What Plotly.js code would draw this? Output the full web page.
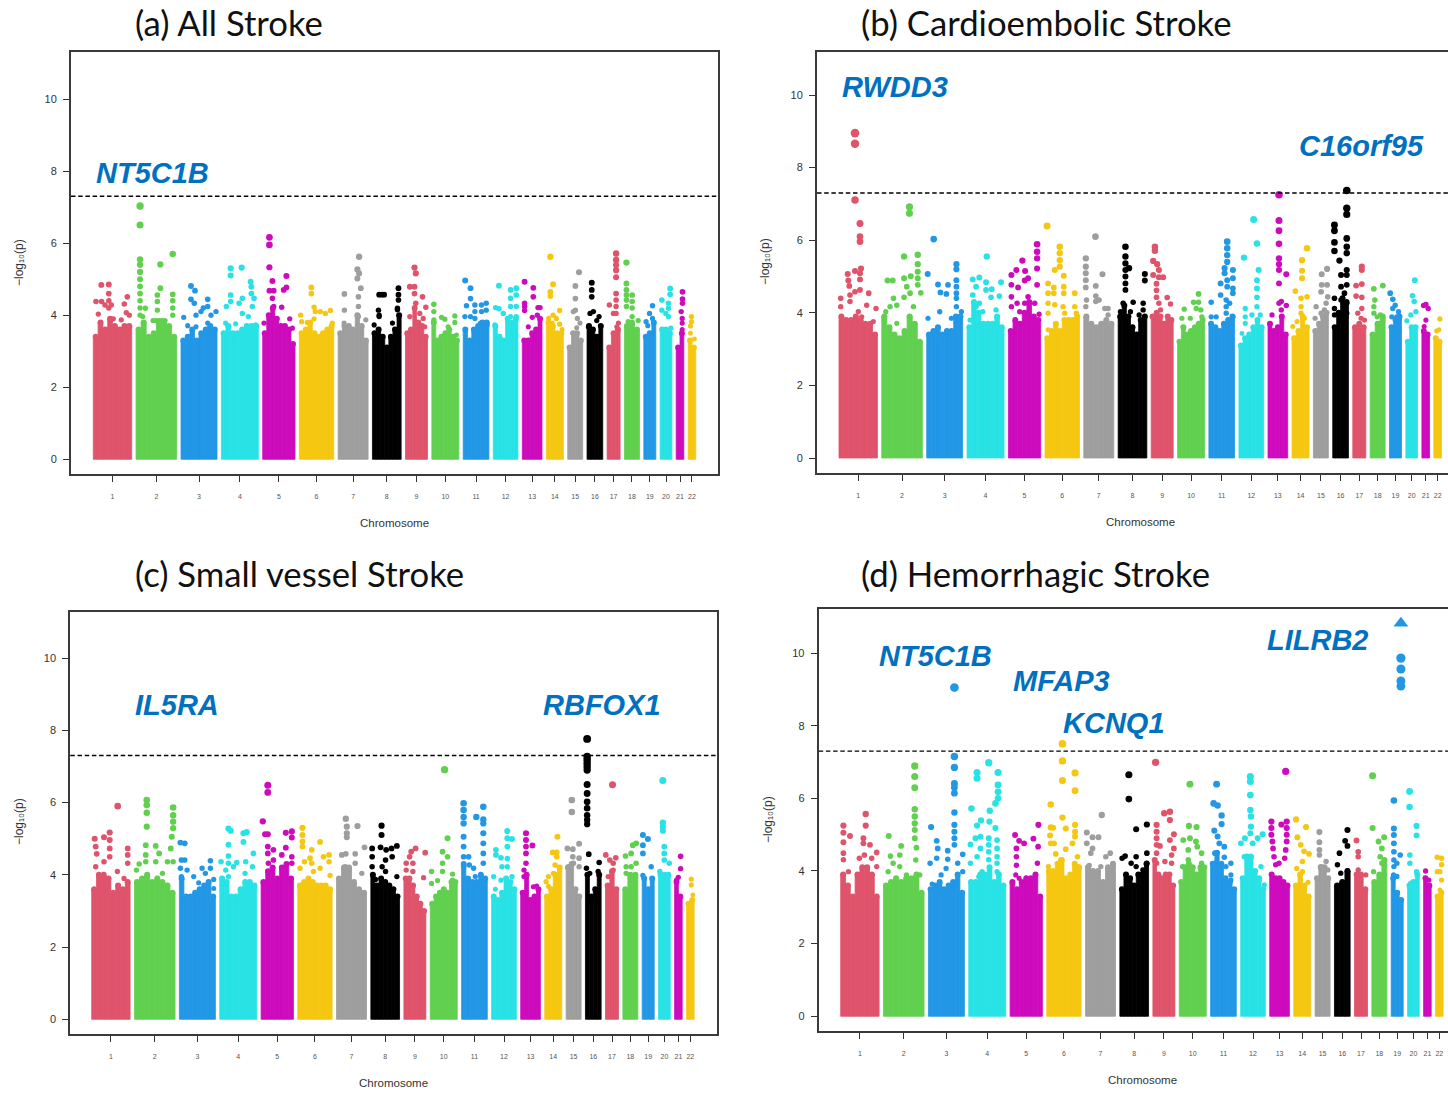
<!DOCTYPE html>
<html><head><meta charset="utf-8">
<script src="https://cdn.plot.ly/plotly-3.0.1.min.js"></script>
<style>html,body{margin:0;padding:0;background:#fff;overflow:hidden}#g{width:1448px;height:1093px}</style>
</head><body><div id="g"></div>
<script>
const chromNames=['1','2','3','4','5','6','7','8','9','10','11','12','13','14','15','16','17','18','19','20','21','22'];
const chromSizes=[38.4,40.6,36,37,32.3,34.4,30,28.7,22,27,25.7,24.7,19.7,17,15,15.7,13,15,12,11.7,7.6,7.6];
const chromColors=['#DF536B','#61D04F','#2297E6','#28E2E5','#CD0BBC','#F5C710','#9E9E9E','#000000'];
const genomeWide=7.3;

// height of the dense body of each chromosome, left to right
const skylineA=[[3.4,3.8,3.6,3.9,3.7,3.6,3.7,3.7],[3.6,3.8,3.4,3.5,3.8,3.8,3.7,3.4],[3.3,3.4,3.6,3.3,3.5,3.6,3.7,3.6],[3.5,3.7,3.5,3.5,3.6,3.7,3.7,3.7],[3.5,4.0,4.2,3.9,3.7,3.7,3.6,3.2],[3.5,3.6,3.8,3.5,3.4,3.5,3.6,3.7],[3.5,3.7,3.7,3.6,4.0,3.7,3.3],[3.5,3.6,3.4,3.1,3.4,3.6,4.0],[3.5,3.6,4.2,3.8,3.7,3.4],[3.8,3.3,3.4,3.5,3.6,3.4,3.3],[3.6,3.3,3.6,3.7,3.8,3.8],[3.7,3.4,3.3,3.9,3.8,3.9],[3.3,3.3,3.5,3.6,3.9],[3.8,3.7,3.5,3.5],[3.1,3.5,3.5,3.3],[3.7,3.6,3.4,3.7],[3.1,3.5,3.6],[3.7,3.8,3.6],[3.4,3.5,3.8],[3.6,3.6,3.5],[3.1,3.5],[3.3,3.1]];
const skylineB=[[3.9,3.8,3.8,3.9,3.8,3.7,3.7,3.4],[3.9,3.6,3.4,3.3,3.5,3.9,3.7,3.2],[3.4,3.5,3.6,3.4,3.5,3.5,3.9,3.9],[3.6,4.3,4.0,3.7,3.7,3.7,3.9,3.6],[3.5,3.8,3.7,4.0,4.3,3.9,3.8],[3.3,3.5,3.7,3.5,3.8,3.8,3.8,3.9],[3.9,3.7,3.6,3.7,3.8,3.7],[3.9,4.2,3.9,3.6,3.4,3.8,3.9],[3.9,4.0,3.9,3.7,3.9,3.8],[3.2,3.6,3.4,3.5,3.6,3.7,3.8],[3.7,3.6,3.5,3.7,3.8,3.9],[3.1,3.3,3.4,3.6,3.8,3.6],[3.7,3.5,3.6,3.9,3.4],[3.3,3.5,3.9,3.6],[3.5,3.7,3.9,4.0],[3.6,4.0,4.4,4.3],[3.6,3.7,3.6],[3.4,3.7,3.9],[3.6,3.8,3.9],[3.2,3.6,3.6],[3.5,3.4],[3.3,3.2]];
const skylineC=[[3.6,4.0,4.0,3.9,3.5,3.7,3.6,3.8],[3.8,3.9,4.0,3.8,3.9,3.8,3.7,3.5],[3.9,3.4,3.4,3.5,3.6,3.7,3.8,3.4],[3.9,3.8,3.4,3.4,3.6,3.8,3.8,3.7],[3.8,4.1,4.2,3.9,4.2,4.3,3.9],[3.7,3.8,3.9,3.8,3.7,3.7,3.7,3.6],[3.9,4.2,4.2,3.8,3.6,3.5],[4.0,3.7,3.9,3.8,3.7,3.6,3.4],[3.9,3.9,3.7,3.4,3.2,3.0],[3.2,3.4,3.5,3.6,3.5,3.8,3.8],[4.3,3.9,3.8,3.8,4.0,3.9],[3.4,3.3,3.5,3.9,3.8,3.6],[3.5,4.0,3.3,3.4,3.6],[3.4,3.6,4.0,4.2],[4.2,4.3,3.6,3.4],[4.0,3.4,3.6,4.0],[3.7,4.1,3.6],[3.6,4.0,4.0],[3.9,3.6,3.9],[4.0,4.0,4.0],[3.8,3.4],[3.2,3.3]];
const skylineD=[[3.9,3.6,3.3,3.9,4.1,4.1,3.9,3.3],[3.6,3.7,3.8,3.7,3.8,3.8,3.9,3.4],[3.5,3.6,3.7,3.5,3.6,3.7,3.9,3.4],[3.7,3.7,3.9,3.9,4.1,3.7,3.9,3.6],[3.7,3.5,3.7,3.8,3.8,3.9,3.3],[4.0,4.0,4.2,4.3,3.8,3.9,4.2,4.1],[4.1,4.0,4.0,3.7,4.1,4.2],[3.5,3.9,3.8,3.6,3.9,3.9,4.2],[4.3,3.9,3.8,3.9,3.9,3.6],[3.7,4.1,4.2,4.1,3.9,4.1,4.1],[4.2,4.5,4.2,3.8,3.7,3.5],[3.8,4.4,4.4,4.0,3.8,3.5],[3.9,3.8,3.8,3.7,3.6],[3.6,3.9,3.6,3.3],[3.8,4.1,4.1,3.8],[3.6,3.7,4.0],[3.9,3.9,3.5],[3.7,3.9,4.3],[3.8,3.4,3.2],[3.6,3.7,3.9],[3.8,3.6],[3.3,3.4]];

// individual points above the body, per chromosome: position in chromosome, -log10(p), ...
const peaksA=[
[8,4.84,2.7,4.38,8.3,4.38,5,4.03,15.5,4.85,15.5,4.6,15.5,4.4,15.5,4.2,11.7,4.28,18,4.28,34,4.51,31,4.31,33,4.07,36,4,20,3.9,28,3.87],
[4,7.03,4,6.5,4,5.55,4,5.4,4,5.2,4,5,4,4.8,4,4.6,4,4.4,4,4.2,4,4,24.3,5.41,36.7,5.7,24.3,4.75,21.3,4.56,21.3,4.38,21.3,4.14,36.7,4.58,36.7,4.4,36.7,4.2,36.7,4,9.3,4.19,6.7,3.96,17,3.85,20,3.85,23,3.85,26,3.85,29,3.85],
[10,4.81,14,4.68,10,4.44,13.3,4.33,2.7,3.94,6.7,3.71,15,4,26.7,4.44,22.3,4.2,26.7,4.24,35,4.1,20,4.1,30,4,26.7,3.78,15,3.68],
[9.3,5.3,9.3,5.1,20.3,5.32,29.3,4.93,30,4.79,30,4.6,9.3,4.56,9.3,4.38,5,4.24,21,4.47,17.7,4.33,32.7,4.47,21,4.05,31,4.24,27,3.96,4.3,3.78,14.3,3.76,34.3,3.73],
[6.7,6.16,6.7,5.95,6.7,5.33,23.7,5.09,9.7,4.95,23.7,4.77,21,4.7,6.7,4.68,11,4.68,9.7,4.47,11,4.24,19,4.22,1.3,3.78,27,3.9,29.7,3.64],
[12,4.77,12,4.6,1.3,4,14.7,4.22,16,4.1,21,4.1,31,4.13,8,3.8,2.3,3.82,26,4.05,33,3.78,14.7,3.9],
[21,5.62,19.3,5.27,21,5.16,22.7,4.75,6.3,4.59,6.3,4.14,20.3,4.51,20.3,4.24,20.3,3.96,27.7,3.87,6,3.78,19.3,5.02],
[9.3,4.57,6.7,4.57,11.7,4.57,26,4.75,26,4.57,26,4.42,25,4.19,6,4.14,6.7,3.96,1.7,3.73,25,4.15,6.7,4,20,3.78],
[9,5.32,10.3,5.16,4.3,4.79,9,4.79,9,4.6,17,4.51,20.3,4.22,10.3,4.33,14.3,4.05,4.3,3.96,17.7,3.91,19.3,3.68],
[2,4.3,2,4.1,23,3.98,23,3.8,9.7,3.94,13,3.89,2,3.87,16.3,3.68,24.7,3.45],
[2,4.96,7.3,4.75,7.3,4.46,3.3,4.26,11.7,4.28,11.7,4.1,11.7,3.91,18.3,4.28,23,4.33,1.7,3.96,7.3,3.96,18.3,4.1,23,4.14,24,3.73,17.3,3.78],
[5.7,4.82,2.3,4.21,5.7,4.18,10,4.05,17.3,4.7,23,4.75,23,4.56,17.3,4.47,17.3,4.24,23,4.24,17.3,3.96,23,3.96,1.7,3.73],
[2.3,4.93,11,4.76,11,4.51,2.3,4.33,2.3,4.24,2.3,4.13,15.7,4.21,17.7,4.21,15,4,10,3.94,6,3.68],
[4,5.62,6.7,4.86,4,4.65,4,4.53,13.3,4.13,6.7,4,2.3,3.91,10,3.91,13.3,3.75,5.7,3.78,15.7,3.6],
[11.3,5.19,7.7,4.81,7.7,4.46,7.7,4.14,5.7,4.1,9.7,3.91,12.3,3.78,9,3.65,5,3.5],
[4.7,4.9,4.7,4.7,4.7,4.51,3,4.05,6.3,4.1,12,3.96,9.7,3.85,1.3,3.68],
[9,5.71,9,5.53,9,5.39,9,5.25,9,5.05,9,4.6,9,4.42,9,4.24,6.3,4.05,2.3,4.28,9,4.05,11.3,3.78,9.7,3.68],
[2,5.46,2,4.88,2,4.7,2,4.56,2,4.42,2,4.24,7.7,4.56,7.7,4.38,7.7,4.2,7.7,3.96,13.7,3.85,3.7,3.82],
[8.7,4.26,5.7,4.05,2.3,3.82,4,3.71,8.7,3.91],
[10,4.74,10,4.58,1.7,4.42,8.3,4.33,8.3,4.19,1.7,4.14,5.7,4.05,8.3,3.96,10.7,3.64],
[6.3,4.65,6.3,4.45,6.3,4.33,5,4.1,6,3.91,6,3.78,6,3.6],
[3.3,3.96,3.3,3.82,2.3,3.7,2.3,3.5,6.3,3.34]];
const peaksB=[
[16,8.95,16,8.66,16,7.11,21,6.46,21,6.1,21,5.96,22,5.22,16,5.15,8.7,5.07,21,5.09,21,4.92,9.3,4.89,10.3,4.74,21,4.63,16,4.58,11,4.49,29.7,4.54,1.7,4.4,1.7,4.17,27.7,4.21,37,4.12,11,4.31,19.3,4.03,34.3,3.76,22.7,3.89],
[27.7,6.92,27.7,6.74,22.3,5.55,36,5.6,36,5.34,36,5.13,36,4.95,36,4.77,5.7,4.89,11,4.89,29,5.01,22.3,4.95,25,4.72,39,4.55,28.3,4.54,22.3,4.43,11.7,4.4,15,4.21,8.3,4.17,4,4.03,31.7,4.17,15,3.71],
[7,6.03,1,5.07,29.7,5.34,29.7,5.2,29.7,4.9,29.7,4.72,29.7,4.54,21.3,4.77,11.3,4.78,13.7,4.56,19.7,4.52,13,4.03,29.7,4.4,29.7,4.17,34.7,4.03,1.3,3.85,24.7,3.85],
[19.7,5.55,12.3,4.97,5.7,4.92,19,4.84,34,4.84,9,4.72,19,4.63,24.7,4.65,32.3,4.46,24,4.43,5.7,4.49,12.3,4.26,9,4.17,29,4.08,15.7,4.03,3,3.8],
[28.7,5.89,28.7,5.68,28.7,5.5,28.7,5.22,14,5.44,8,5.18,16.7,5.15,3,5.04,19.7,4.95,16.3,4.89,3,4.77,9.7,4.7,28.7,4.77,19.7,4.44,3,4.44,3,4.17,8.7,4.26,16.3,4.26,26.3,4.26,30.7,3.96,11.3,4.03],
[2,6.39,14.7,5.82,14.7,5.64,14.7,5.45,14.7,5.27,9.7,5.18,18.7,5.02,3,4.81,8.7,4.7,18.7,4.72,18.7,4.54,29.7,4.54,3,4.54,3,4.26,3,3.99,8.7,4.54,9.7,4.22,18,4.17,29.7,4.17,19.7,3.99,3,3.53,31.3,3.99],
[11.7,6.1,2,5.5,2,5.27,2,5.09,2,4.9,18.7,5.06,12,4.74,2,4.7,12,4.46,12,4.31,15.3,4.35,21,4.12,24.3,4.12,24.3,3.94,2.7,4.35,2,4.17,26,3.66],
[7.3,5.82,7.3,5.55,7.3,5.36,7.3,5.18,7.3,5,7.3,4.81,7.3,4.63,11,5.23,26.7,5.07,26.7,4.89,5,4.26,15,4.29,25,4.26,25,4.08,12.3,4.03,21,3.94,25,3.8,2.3,4.03],
[3.7,5.82,3.7,5.71,2,5.43,6,5.34,7.7,5.18,2,5.04,7.7,4.98,12,4.98,5.3,4.8,5.3,4.62,5.3,4.43,7.7,4.26,9.3,4.08,16,4.42,19.3,4.24,1,3.9],
[21,4.52,16,4.29,21,4.29,6.7,4.1,18.7,4.12,12.7,3.85,23.3,4.08,4.3,3.85,24.3,3.89],
[18.3,5.96,18.3,5.78,18.3,5.59,15.7,5.23,18.3,5.4,24,5.18,15.7,5.09,24,4.95,11.7,4.81,18.3,4.9,18.3,4.72,24,4.67,24,4.54,2.3,4.29,11.7,4.49,17.3,4.35,17.3,4.17,20.7,4.26,17.3,3.99,7.3,3.89,2.3,3.89,24,3.89],
[14.7,6.57,18,5.91,5,5.52,19.7,5.18,18,4.9,18,4.67,18,4.43,6.3,4.12,6.3,3.89,6.3,3.71,18,4.17,21.3,3.94,13,3.94,3,3.43],
[11,7.25,11,6.54,11,6.26,11,5.9,11,5.5,11,5.34,11,5.18,18.3,5.06,11,4.81,13.3,4.31,18.3,4.2,11,4.26,4,3.94,13.3,4.08],
[15,5.78,10,5.45,10,5.16,10,4.95,3.3,4.6,15,4.44,9,4.4,9,4.17,9,3.99,0.7,3.62,5,3.76,12.3,3.85],
[8.3,5.06,13.7,5.21,8.3,4.77,13.7,4.77,7.7,4.58,14.3,4.44,2.7,4.17,12.7,4.26,7.7,3.99,1.7,3.85,11,4.08],
[14,7.37,14,6.88,14,6.71,1.7,6.42,1.7,6.26,1.7,5.94,1.7,5.7,14,6.05,14,5.82,14,5.64,6.7,5.44,14,5.18,14,5.04,8.3,5.04,8.3,4.72,11.7,4.54,8.3,4.35,14,4.77,14,4.26,1.7,4.4,1.7,4.12,1.7,3.94,14,3.99],
[9,5.27,9,5.18,3.3,4.75,9,4.79,3.3,4.46,9,4.43,9,4.12,5,3.99,8.3,3.85,11.7,3.8],
[12.7,4.75,3.7,4.66,4.7,4.35,3.7,4.17,3.7,3.99,10.3,3.94,7,3.89,12,3.76],
[0.7,4.54,3.3,4.37,5.7,4.21,3.3,4.12,9,4.03,2.3,3.89,7.3,3.89],
[9,4.9,6.7,4.47,8.3,4.31,1,3.78,10,4.03,5,3.94],
[4,4.23,1.7,4.2,6.3,4.12,4,3.8,2.3,3.62],
[6,3.83,5,3.53,2.7,3.5]];
const peaksC=[
[26,5.9,18,5.17,12.3,5.04,3,5,18,4.96,18,4.73,18,4.5,4,4.78,5,4.58,36,4.73,36,4.55,12.3,4.36,25.7,4.09,4,4.22,36,4.32,32.3,3.9],
[12.3,6.07,12.3,5.93,12.3,5.72,12.3,5.33,38.7,5.86,38.7,5.65,38.7,5.47,38.7,5.29,37.3,5.05,36.3,4.73,11.3,4.82,21.3,4.8,24.7,4.59,11.3,4.55,11.3,4.36,4.7,4.3,33,4.36,38.7,4.36,21.3,4.36,2,4.13,28,4.04],
[1,4.89,5.3,4.87,2,4.41,5.3,4.41,1,4.18,7.7,4.13,2,3.95,14.3,3.95,22.7,4.18,31,4.39,31,4.18,26,4.04,34.3,3.87,34.3,3.62,19.3,3.78],
[8.7,5.28,11,5.22,23.7,5.15,27,5.18,23.7,4.91,8.7,4.83,8.7,4.52,33.7,4.59,1.3,4.36,8.7,4.32,6,4.13,17,4.34,26,4.36,13.7,4.22,8.7,3.95,32.7,4.22,25.3,4.04],
[6.7,6.48,6.7,6.28,1.7,5.48,4,5.12,6.7,5.12,24.7,5.16,30.7,5.2,30.7,5.03,6.7,4.78,6.7,4.59,12.3,4.69,24.7,4.75,12.3,4.41,20.7,4.55,30.7,4.5,30.7,4.32,7.3,4.32,2.3,3.78],
[4.7,5.3,4.7,5.1,4.7,4.92,4.7,4.78,22.3,4.91,14,4.69,12.3,4.46,2.3,4.18,6.7,4.36,25.7,4.5,31.3,4.55,31.3,4.36,32.3,3.98,22.3,4.18,14,4.32,15.7,4.09],
[9.3,5.55,10.3,5.33,10.3,5.15,10.3,5.04,21,5.35,28,4.76,5.3,4.55,9.3,4.58,18.7,4.58,18.7,4.32,25.3,4.04,8.7,4.22],
[10.7,5.36,10.7,5.1,1.3,4.73,9.7,4.76,15.3,4.69,20.7,4.73,26,4.8,1.3,4.5,1.3,4.22,21.3,4.5,14.7,4.41,11.3,4.22,14.7,4.09,26,3.95,4.7,3.87],
[11.7,4.73,7.3,4.64,21.3,4.61,5.7,4.5,2.3,4.32,9,4.32,19.7,3.92,9,4.09,2.3,4.13],
[14.3,6.91,17.3,5.01,12.3,4.64,17.3,4.5,12.3,4.32,12.3,4.09,1.3,4.09,7.3,3.84,1.3,3.76,22.3,4.02,22.3,3.85],
[2,5.98,2,5.79,2,5.6,2,5.42,21.7,5.88,14.7,5.6,21.7,5.53,21.7,5.42,2,5.05,2,4.78,2,4.5,2,4.22,21.7,5.15,21.7,4.87,21.7,4.59,21.7,4.32,7.7,4.27,12,4.18,7,4.5,13.7,3.95],
[15.7,5.21,15.7,5.01,15.7,4.78,20.3,4.99,4.3,4.69,4.3,4.55,9.3,4.47,10.3,4.22,15.7,4.45,15.7,4.22,2,3.95,9.3,3.85,20.3,3.95,3.7,3.6],
[5.3,5.15,5.3,4.96,5.3,4.78,5.3,4.59,11.7,4.81,5.3,4.32,3.3,4.13,3.3,3.95,16,3.69,12.7,3.67],
[12.7,5.05,8,4.62,12,4.62,12,4.5,10.3,4.27,3.7,3.95,1.3,3.81,3.7,3.68,8.7,4.04],
[5.7,6.07,5.7,5.74,13,4.86,1.3,4.73,6.7,4.71,6.7,4.5,13,4.46,7.3,4.32,13,4.22,2.3,4.22],
[1.7,7.76,1.7,7.27,1.7,7.18,1.7,7.08,1.7,6.99,1.7,6.9,1.7,6.5,1.7,6.25,1.7,6.02,1.7,5.84,1.7,5.65,1.7,5.52,1.7,5.4,3.3,4.57,13.7,4.34,1,4.18,4.3,4.04,12.7,4.09],
[7,6.49,0.3,4.55,10.3,4.47,4.3,4.41,7.7,4.32,7.7,4.13,2.7,3.95],
[13.3,4.87,10,4.82,8.3,4.59,2.7,4.52,13.3,4.32,3.3,4.22,8.3,4.22,3.3,4.04],
[0.7,5.1,5.7,4.99,0.7,4.82,0.7,4.59,9,4.22,0.7,3.98],
[4.3,6.61,4.3,5.44,4.3,5.33,4.3,5.22,5.7,4.78,5.7,4.59,5.7,4.41,10.7,4.32,1.3,4.09],
[6,4.51,6,4.17,3.7,3.93,2,3.85],
[4.7,3.88,4.7,3.72,6.3,3.44]];
const peaksD=[
[25,5.57,25,5.25,2.7,5.25,2.7,5.05,9.3,4.96,22.7,4.9,22.7,4.76,2.7,4.79,29.3,4.72,36,4.51,2.7,4.49,2.7,4.31,23.7,4.44,18.7,4.35,7.7,3.98,36,4.12,31,4.35],
[31.3,6.89,31.3,6.6,31.3,6.29,31.3,5.7,31.3,5.5,31.3,5.31,31.3,5.13,31.3,4.9,33,4.64,5.3,4.96,17.7,4.69,7,4.41,16.3,4.44,9.7,4.21,32.3,4.3,4.7,3.98,16.3,4.12,23,3.89,36.3,3.89],
[26,9.05,26,7.15,26,6.85,26,6.41,26,6.3,26,6.14,26,5.61,26,5.27,26,5.08,26,4.9,26,4.72,2.7,5.21,8.3,4.83,9.3,4.62,19.3,4.56,34.3,4.46,1.7,4.21,8.3,4.35,19.3,4.32,29.3,4.21,17.7,4.07,34.3,3.98,12.7,3.89,3.7,3.64],
[20,6.98,8.3,6.71,8.3,6.55,29.3,6.71,29.3,6.37,29.3,6.18,29.3,6,26.7,5.86,2.7,5.72,21,5.66,20.7,5.36,12.3,5.39,8.3,5.25,26.7,5.18,20,4.9,20,4.72,20,4.53,20,4.31,11.7,4.94,1.7,4.73,6.7,4.9,11.7,4.62,8.3,4.39,28.3,4.85,28.3,4.62,28.3,4.39,28.3,4.21,28.3,3.98,1.7,4.21,13.3,3.98,10,3.84],
[28.3,5.27,5,4.99,23.3,4.89,9,4.83,14,4.76,28,4.67,6.3,4.62,6.3,4.39,6.3,4.16,27.3,4.21,5.7,3.89,9,3.8],
[15.7,7.5,15.7,7.03,15.7,6.49,28.3,6.7,28.3,6.21,4,5.83,15.7,5.47,4,5.2,6.3,5.19,19,5.17,28.3,5.27,28.3,5.08,28.3,4.95,25.7,4.76,3.3,4.98,4,4.76,7.3,4.76,19,4.6,9,4.47,30.7,4.39,1.7,4.12,30.7,4.12,14,4.3],
[16.3,5.54,1.3,5.06,7,4.93,13,4.93,1.3,4.76,7,4.62,5.3,4.49,24.7,4.49,20.3,4.39,3.7,4.15,15.3,4.12],
[9,6.65,9,5.98,16.3,5.15,27,5.28,27,4.49,27,4.21,5.3,4.41,2.3,4.35,16.3,4.39,16.3,4.12,11.3,4.21,23,4.03],
[2.7,6.99,11.3,5.59,17,5.63,17,5.4,3.7,5.27,3.7,5.08,3.7,4.9,3.7,4.72,21,5.01,17,4.85,21,4.62,7,4.69,18.7,4.44,18.7,4.21,3.7,4.49,3.7,4.21,12,4.26],
[10.7,6.39,9.7,5.24,17.3,5.21,4,4.85,10.7,4.9,16.7,4.81,18,4.67,9,4.58,9,4.31,22.3,4.49,22.3,4.21,3.3,4.12],
[6,6.39,3,5.86,7,5.8,11,5.53,11,5.29,3.7,5.11,7,4.95,8.7,4.76,13.7,4.67,4.3,4.49,4.3,4.21,13.7,4.38,20.3,4.21,20.3,3.89,20.3,3.75,15.3,4.12],
[9.7,6.6,9.7,6.46,9.7,6.09,9.7,5.68,10.3,5.5,10.3,5.22,9.7,5.04,22,5.01,17,4.9,4.3,4.9,0.3,4.76,12,4.76,3.7,4.39,10.3,4.39,20.3,4.12,23.7,3.62,13.7,3.66],
[16,6.74,1.7,5.36,1.7,5.18,1.7,5,2.7,4.81,3.3,4.62,4.3,4.39,6,4.17,11.7,5.28,17,5.36,17,5.18,17,5,17,4.81,16,4.58,15,4.35,9.3,4.21],
[2.3,5.42,12.3,5.21,3.7,4.93,7,4.72,10.3,4.54,15.3,4.47,8.7,4.26,3,4.07,8.7,3.98,14.3,3.69,7,3.75],
[4.3,5.07,4.3,4.79,4.3,4.58,4.3,4.44,11,4.26,6,4.12,12.7,4.03],
[13,5.13,10.7,4.83,13,4.69,5,4.49,3,4.17,13,4,6.3,3.94],
[2,4.84,3.7,4.53,3.7,4.39,3.7,4.03,11.3,3.89],
[0.7,6.62,0.7,5.18,12.3,4.93,6.7,4.81,10,4.62,8.3,4.39,10,4.21,1.7,3.98],
[2.7,5.94,2.7,5.17,2.7,4.99,2.7,4.76,2.7,4.53,9,4.44,2.7,4.3,2.7,4.12,5.7,4.21,5.7,3.85,2.3,3.89],
[2,6.19,2,5.76,9,5.24,9,4.98,2.3,4.44,2.3,4.21,9,3.98,3,3.66],
[2,4,2,3.8,5.3,3.75],
[1.7,4.38,6,4.35,6,4.17,4.3,3.98,1.7,3.98,6,3.75,4.3,3.48]];
// the one truncated association, plotted as a triangle in panel (d)
const capD=[18,9.7,10.82];
const peaksDExtra=[18,[9.7,9.86,9.7,9.56,9.7,9.23,9.7,9.09]];

const panelTitles=['(a) All Stroke','(b) Cardioembolic Stroke','(c) Small vessel Stroke','(d) Hemorrhagic Stroke'];
const geneLabels=[['NT5C1B',96,173],['RWDD3',842,87],['C16orf95',1299,146],['IL5RA',135,705],['RBFOX1',543,705],['NT5C1B',880,656],['MFAP3',1013,681],['KCNQ1',1063,723],['LILRB2',1267,640]];

const W=1448,H=1093,GAP=4.35;
const frames=[
 {l:71,r:718,t:52,b:473.5,start:93.3,y0:459.3,y10:99,titleX:133,titleY:23,cx:394,cy:523,yx:19,yy:263,closed:true},
 {l:817,r:1448,t:51.7,b:472.7,start:839,y0:458,y10:95,titleX:859,titleY:23,cx:1140,cy:522,yx:765,yy:262,closed:false},
 {l:70.3,r:717,t:612,b:1033.7,start:91.7,y0:1019.3,y10:658,titleX:133,titleY:573,cx:393,cy:1083,yx:19,yy:822,closed:true},
 {l:818.7,r:1448,t:609.3,b:1030.7,start:840.7,y0:1016.3,y10:653,titleX:859,titleY:573,cx:1142,cy:1080,yx:768,yy:820,closed:false}];
const skylines=[skylineA,skylineB,skylineC,skylineD];
const peaks=[peaksA,peaksB,peaksC,peaksD];
const starts=[];chromSizes.reduce((s,w,i)=>{starts[i]=s;return s+w+GAP;},0);
const centers=chromSizes.map((w,i)=>starts[i]+w/2);
const colorOf=i=>chromColors[i%chromColors.length];
const sizeOf=y=>2.6+0.68*y;
const px=x=>x/W, py=y=>1-y/H;

const traces=[],layout={width:W,height:H,margin:{l:0,r:0,t:0,b:0},paper_bgcolor:'#fff',plot_bgcolor:'#fff',showlegend:false,barmode:'overlay',hovermode:false,shapes:[],
 annotations:[],font:{family:'Liberation Sans, Arial, sans-serif',color:'#333'}};
frames.forEach((f,p)=>{
 const n=p+1,xa=n===1?'xaxis':'xaxis'+n,ya=n===1?'yaxis':'yaxis'+n,xr=n===1?'x':'x'+n,yr=n===1?'y':'y'+n;
 const unit=(f.y0-f.y10)/10;
 layout[xa]={domain:[px(f.l),px(f.r)],range:[f.l-f.start,f.r-f.start],anchor:yr,tickmode:'array',tickvals:centers,ticktext:chromNames,
   ticks:'outside',ticklen:6,tickwidth:1,tickcolor:'#333',tickangle:0,tickfont:{size:7,color:'#555'},ticklabelstandoff:9,showgrid:false,zeroline:false,showline:true,mirror:true,linecolor:'#3a3a3a',linewidth:2,fixedrange:true};
 layout[ya]={domain:[py(f.b),py(f.t)],range:[(f.y0-f.b)/unit,(f.y0-f.t)/unit],anchor:xr,tickmode:'array',tickvals:[0,2,4,6,8,10],
   ticks:'outside',ticklen:6,tickwidth:1,tickcolor:'#333',tickfont:{size:11,color:'#333'},ticklabelstandoff:4,showgrid:false,zeroline:false,showline:true,mirror:f.closed,linecolor:'#3a3a3a',linewidth:2,fixedrange:true};
 // chromosome bodies
 const bx=[],by=[],bw=[],bc=[];
 skylines[p].forEach((arr,c)=>{
   const w=chromSizes[c]/arr.length;
   arr.forEach((h,i)=>{bx.push(starts[c]+w*(i+.5));by.push(h);bw.push(w);bc.push(colorOf(c));});
 });
 traces.push({type:'bar',x:bx,y:by,width:bw,marker:{color:bc,line:{width:0.8,color:bc}},xaxis:xr,yaxis:yr,hoverinfo:'skip'});
 traces.push({type:'scatter',mode:'markers',x:bx,y:by,marker:{color:bc,size:6,opacity:1,line:{width:0}},xaxis:xr,yaxis:yr,hoverinfo:'skip'});
 // individual points
 const mx=[],my=[],mc=[],ms=[];
 const add=(c,list)=>{for(let i=0;i<list.length;i+=2){mx.push(starts[c]+list[i]);my.push(list[i+1]);mc.push(colorOf(c));ms.push(sizeOf(list[i+1]));}};
 peaks[p].forEach((list,c)=>add(c,list));
 if(p===3){add(peaksDExtra[0],peaksDExtra[1]);
   traces.push({type:'scatter',mode:'markers',x:[starts[capD[0]]+capD[1]],y:[capD[2]],marker:{symbol:'triangle-up',color:colorOf(capD[0]),size:13,opacity:1,line:{width:0}},xaxis:xr,yaxis:yr,hoverinfo:'skip'});}
 traces.push({type:'scatter',mode:'markers',x:mx,y:my,marker:{color:mc,size:ms,opacity:1,line:{width:0}},xaxis:xr,yaxis:yr,hoverinfo:'skip'});
 // genome-wide line
 layout.shapes.push({type:'line',xref:xr+' domain',yref:yr,x0:0,x1:1,y0:genomeWide,y1:genomeWide,line:{color:'#000',width:1.4,dash:'4.5px,2.7px'}});
 layout.annotations.push({xref:'paper',yref:'paper',x:px(f.titleX),y:py(f.titleY),xanchor:'left',yanchor:'middle',showarrow:false,text:panelTitles[p],font:{family:'Lato, "Open Sans", sans-serif',size:34.7,color:'#111'}});
 layout.annotations.push({xref:'paper',yref:'paper',x:px(f.cx),y:py(f.cy),xanchor:'center',yanchor:'middle',showarrow:false,text:'Chromosome',font:{size:11.5,color:'#333'}});
 layout.annotations.push({xref:'paper',yref:'paper',x:px(f.yx),y:py(f.yy),xanchor:'center',yanchor:'middle',textangle:-90,showarrow:false,text:'\u2212log\u2081\u2080(p)',font:{size:12,color:'#333'}});
});
geneLabels.forEach(g=>layout.annotations.push({xref:'paper',yref:'paper',x:px(g[1]-2.5),y:py(g[2]),xanchor:'left',yanchor:'middle',showarrow:false,text:'<b><i>'+g[0]+'</i></b>',font:{family:'Liberation Sans, Arial, sans-serif',size:29,color:'#0070C0'}}));
Plotly.newPlot('g',traces,layout,{staticPlot:true,displayModeBar:false});
</script></body></html>
